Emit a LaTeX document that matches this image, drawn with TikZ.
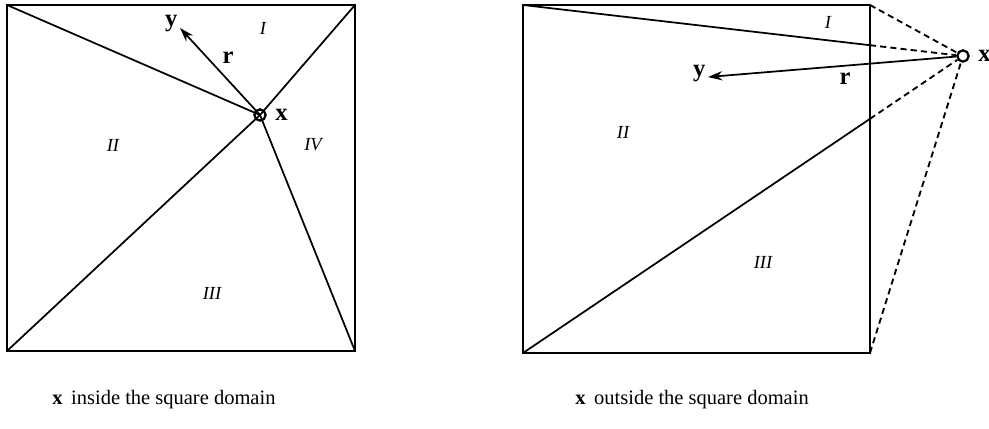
\documentclass[tikz,border=0pt]{standalone}
\usepackage{fontspec}
\setmainfont{Liberation Serif}
\usetikzlibrary{arrows.meta, positioning, calc}

\tikzset{
    edge/.style={line width=1pt},
    ray/.style={line width=0.85pt},
    hidden/.style={line width=0.9pt, dash pattern=on 3pt off 2pt},
    field/.style={circle, draw, line width=1.1pt, minimum size=5.5pt, inner sep=0pt},
    region/.style={font=\small\itshape, inner sep=1pt},
    vec/.style={font=\large\bfseries, inner sep=1pt},
    caption/.style={anchor=base west, inner sep=0pt}
}

\begin{document}
\begin{tikzpicture}[x=0.488pt, y=-0.488pt]
    \useasboundingbox (0,0) rectangle (989,429);

    % left: x inside the square
    \coordinate (ltl) at (7,5);
    \coordinate (ltr) at (355,5);
    \coordinate (lbr) at (355,351);
    \coordinate (lbl) at (7,351);
    \draw[edge] (ltl) -- (ltr) -- (lbr) -- (lbl) -- cycle;
    \node[field] (xin) at (260,115) {};
    \foreach \c in {ltl, ltr, lbr, lbl}
        \draw[ray] (\c) -- (xin.center);
    \coordinate (yin) at (180,28);
    \draw[ray, -{Stealth[length=7pt, width=4.5pt]}] (xin.center) -- (yin);
    \node[vec, anchor=east] at ($(yin)+(0,-4)$) {y};
    \node[vec, right=3pt of xin] {x};
    \node[vec] at (228,58) {r};
    \node[region] at (263,28) {I};
    \node[region] at (113,145) {II};
    \node[region] at (212,293) {III};
    \node[region] at (313,145) {IV};

    % right: x outside the square
    \coordinate (rtl) at (523,5);
    \coordinate (rtr) at (870,5);
    \coordinate (rbr) at (870,353);
    \coordinate (rbl) at (523,353);
    \draw[edge] (rtl) -- (rtr) -- (rbr) -- (rbl) -- cycle;
    \node[field] (xout) at (963,56) {};
    \coordinate (pa) at (intersection of rtl--xout and rtr--rbr);
    \coordinate (pb) at (intersection of rbl--xout and rtr--rbr);
    \draw[ray] (rtl) -- (pa);
    \draw[ray] (rbl) -- (pb);
    \foreach \c in {rtr, pa, pb, rbr}
        \draw[hidden] (\c) -- (xout);
    \coordinate (yout) at (708,77);
    \draw[ray, -{Stealth[length=7pt, width=4.5pt]}] (xout) -- (yout);
    \node[vec, anchor=east] at ($(yout)+(0,-3)$) {y};
    \node[vec, right=3pt of xout] {x};
    \node[vec] at (845,79) {r};
    \node[region] at (828,22) {I};
    \node[region] at (623,132) {II};
    \node[region] at (763,262) {III};

    \node[caption] (capin) at (52,405) {\textbf{x} \,inside the square domain};
    \node[caption] (capout) at (575,405) {\textbf{x} \,outside the square domain};
\end{tikzpicture}
\end{document}
